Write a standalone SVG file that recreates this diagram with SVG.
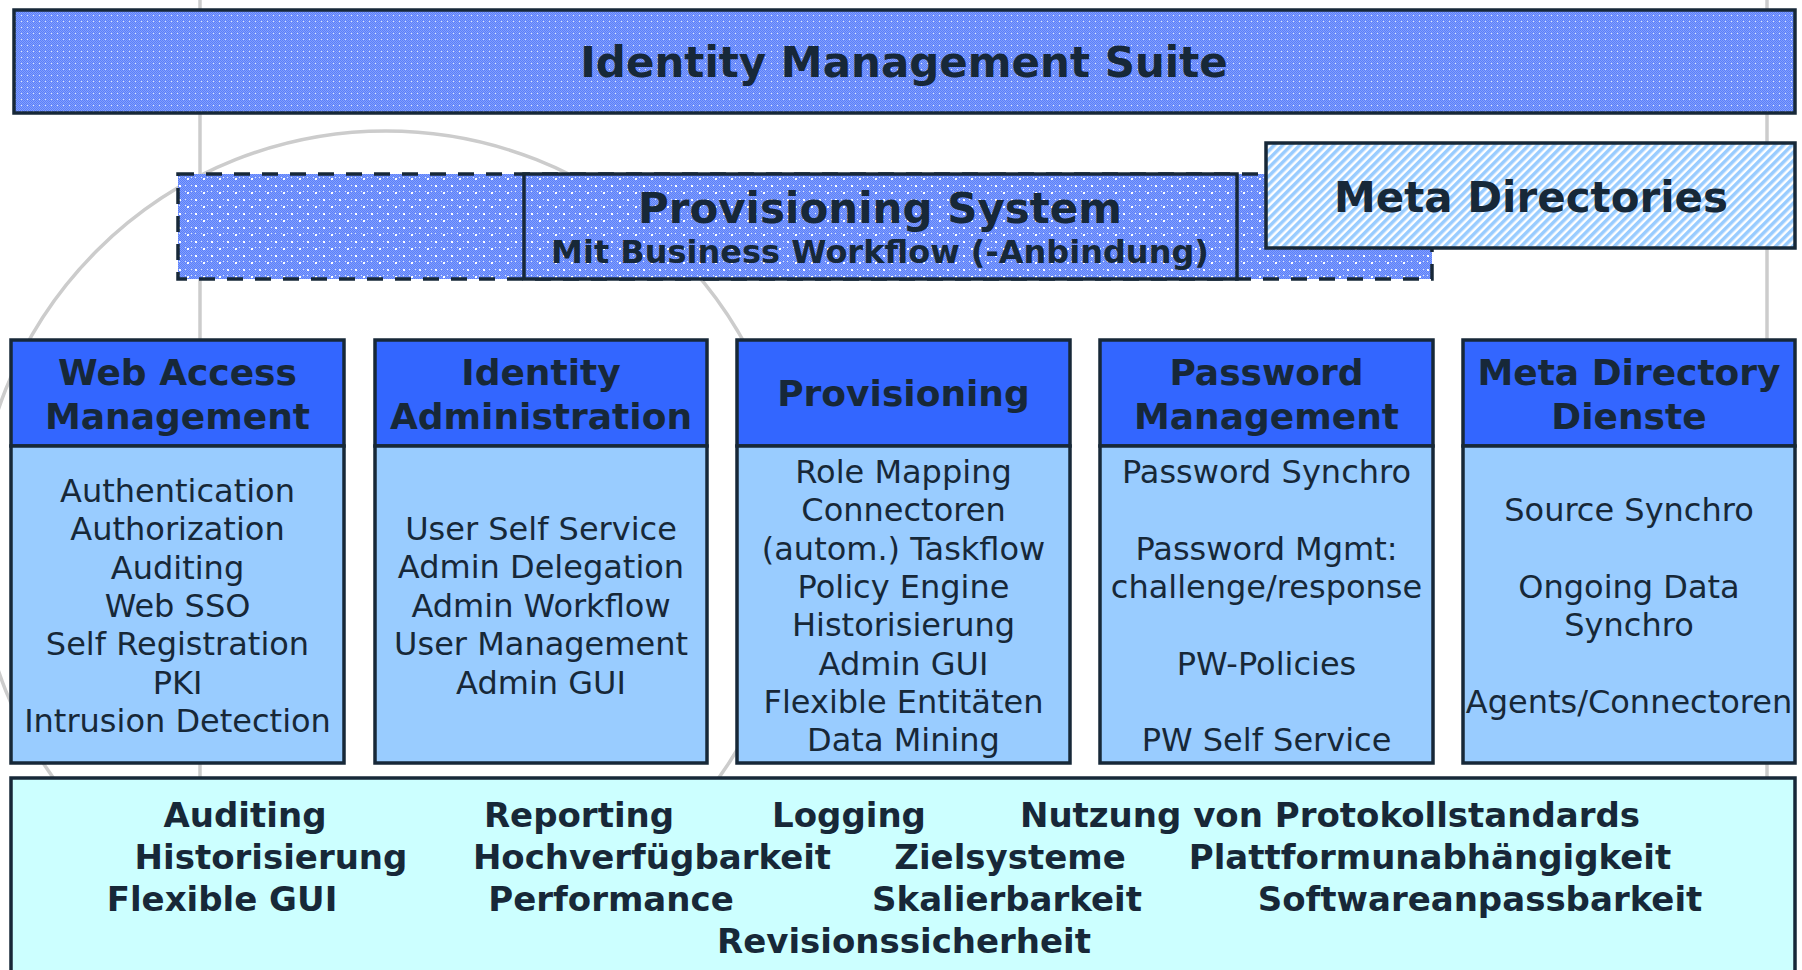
<svg xmlns="http://www.w3.org/2000/svg" width="1802" height="970" viewBox="0 0 1802 970">
<defs>
<pattern id="checker" patternUnits="userSpaceOnUse" width="6" height="6">
<rect width="6" height="6" fill="#839ffa"/>
<rect x="0" y="0" width="1" height="1" fill="#5a7ffc"/><rect x="2" y="0" width="1" height="1" fill="#5a7ffc"/><rect x="4" y="0" width="1" height="1" fill="#5a7ffc"/>
<rect x="1" y="1" width="1" height="1" fill="#5a7ffc"/><rect x="3" y="1" width="1" height="1" fill="#5a7ffc"/><rect x="5" y="1" width="1" height="1" fill="#5a7ffc"/>
<rect x="0" y="2" width="1" height="1" fill="#5a7ffc"/><rect x="2" y="2" width="1" height="1" fill="#5a7ffc"/><rect x="4" y="2" width="1" height="1" fill="#5a7ffc"/>
<rect x="1" y="3" width="1" height="1" fill="#5a7ffc"/><rect x="3" y="3" width="1" height="1" fill="#5a7ffc"/><rect x="5" y="3" width="1" height="1" fill="#5a7ffc"/>
<rect x="0" y="4" width="1" height="1" fill="#5a7ffc"/><rect x="2" y="4" width="1" height="1" fill="#5a7ffc"/><rect x="4" y="4" width="1" height="1" fill="#5a7ffc"/>
<rect x="1" y="5" width="1" height="1" fill="#5a7ffc"/><rect x="3" y="5" width="1" height="1" fill="#5a7ffc"/><rect x="5" y="5" width="1" height="1" fill="#5a7ffc"/>
<rect x="3" y="3" width="1" height="1" fill="#dde6ff"/>
</pattern>
<pattern id="dots" patternUnits="userSpaceOnUse" width="16" height="14">
<rect width="16" height="14" fill="url(#checker)"/>
<rect x="3" y="3" width="2" height="2" fill="#ffffff"/>
<rect x="11" y="10" width="2" height="2" fill="#ffffff"/>
</pattern>
<pattern id="hatch" patternUnits="userSpaceOnUse" width="6" height="6" patternTransform="rotate(45)">
<rect width="6" height="6" fill="#ffffff"/>
<rect x="0" y="0" width="3.5" height="6" fill="#99ccff"/>
</pattern>
<style>
.bg{fill:none;stroke:#cccccc;stroke-width:3.5}
.box{stroke:#172838;stroke-width:3.5}
.hdr{fill:#3366ff}
.body{fill:#99ccff}
.t{font-family:"DejaVu Sans",Verdana,sans-serif;fill:#172838;text-anchor:middle}
.b{font-weight:bold}
.h{font-size:36px;font-weight:bold}
.r{font-size:32px}
.f{font-size:34px;font-weight:bold}
</style>
</defs>
<rect width="1802" height="970" fill="#ffffff"/>
<g id="background-lines">
<line class="bg" x1="200" y1="0" x2="200" y2="790"/>
<line class="bg" x1="1767" y1="0" x2="1767" y2="790"/>
<circle class="bg" cx="386" cy="540" r="409"/>
</g>
<g id="suite">
<rect class="box" x="14" y="10" width="1781" height="103" fill="url(#checker)"/>
<text class="t b" x="904" y="77" font-size="42">Identity Management Suite</text>
</g>
<g id="provisioning-system">
<rect x="178" y="174" width="1254" height="105" fill="url(#dots)" stroke="#172838" stroke-width="3.5" stroke-dasharray="16 12"/>
<rect class="box" x="524" y="174" width="713" height="105" fill="url(#dots)"/>
<text class="t b" x="880" y="223" font-size="42">Provisioning System</text>
<text class="t b" x="880" y="263" font-size="32">Mit Business Workflow (-Anbindung)</text>
</g>
<g id="meta-directories">
<rect class="box" x="1266" y="143" width="529" height="105" fill="url(#hatch)"/>
<text class="t b" x="1531" y="212" font-size="42">Meta Directories</text>
</g>
<g id="web-access-management">
<rect class="box hdr" x="11" y="340" width="333" height="106"/>
<rect class="box body" x="11" y="446" width="333" height="317"/>
<text class="t h" x="177.5" y="385">Web Access</text>
<text class="t h" x="177.5" y="429">Management</text>
<text class="t r" x="177.5" y="502">Authentication</text>
<text class="t r" x="177.5" y="540">Authorization</text>
<text class="t r" x="177.5" y="579">Auditing</text>
<text class="t r" x="177.5" y="617">Web SSO</text>
<text class="t r" x="177.5" y="655">Self Registration</text>
<text class="t r" x="177.5" y="694">PKI</text>
<text class="t r" x="177.5" y="732">Intrusion Detection</text>
</g>
<g id="identity-administration">
<rect class="box hdr" x="375" y="340" width="332" height="106"/>
<rect class="box body" x="375" y="446" width="332" height="317"/>
<text class="t h" x="541" y="385">Identity</text>
<text class="t h" x="541" y="429">Administration</text>
<text class="t r" x="541" y="540">User Self Service</text>
<text class="t r" x="541" y="578">Admin Delegation</text>
<text class="t r" x="541" y="617">Admin Workflow</text>
<text class="t r" x="541" y="655">User Management</text>
<text class="t r" x="541" y="694">Admin GUI</text>
</g>
<g id="provisioning">
<rect class="box hdr" x="737" y="340" width="333" height="106"/>
<rect class="box body" x="737" y="446" width="333" height="317"/>
<text class="t h" x="903.5" y="406">Provisioning</text>
<text class="t r" x="903.5" y="483">Role Mapping</text>
<text class="t r" x="903.5" y="521">Connectoren</text>
<text class="t r" x="903.5" y="560">(autom.) Taskflow</text>
<text class="t r" x="903.5" y="598">Policy Engine</text>
<text class="t r" x="903.5" y="636">Historisierung</text>
<text class="t r" x="903.5" y="675">Admin GUI</text>
<text class="t r" x="903.5" y="713">Flexible Entitäten</text>
<text class="t r" x="903.5" y="751">Data Mining</text>
</g>
<g id="password-management">
<rect class="box hdr" x="1100" y="340" width="333" height="106"/>
<rect class="box body" x="1100" y="446" width="333" height="317"/>
<text class="t h" x="1266.5" y="385">Password</text>
<text class="t h" x="1266.5" y="429">Management</text>
<text class="t r" x="1266.5" y="483">Password Synchro</text>
<text class="t r" x="1266.5" y="560">Password Mgmt:</text>
<text class="t r" x="1266.5" y="598">challenge/response</text>
<text class="t r" x="1266.5" y="675">PW-Policies</text>
<text class="t r" x="1266.5" y="751">PW Self Service</text>
</g>
<g id="meta-directory-dienste">
<rect class="box hdr" x="1463" y="340" width="332" height="106"/>
<rect class="box body" x="1463" y="446" width="332" height="317"/>
<text class="t h" x="1629" y="385">Meta Directory</text>
<text class="t h" x="1629" y="429">Dienste</text>
<text class="t r" x="1629" y="521">Source Synchro</text>
<text class="t r" x="1629" y="598">Ongoing Data</text>
<text class="t r" x="1629" y="636">Synchro</text>
<text class="t r" x="1629" y="713">Agents/Connectoren</text>
</g>
<g id="common-features">
<rect class="box" x="11" y="778" width="1784" height="200" fill="#ccffff"/>
<text class="t f" x="245" y="827">Auditing</text>
<text class="t f" x="579" y="827">Reporting</text>
<text class="t f" x="849" y="827">Logging</text>
<text class="t f" x="1330" y="827">Nutzung von Protokollstandards</text>
<text class="t f" x="271" y="869">Historisierung</text>
<text class="t f" x="652" y="869">Hochverfügbarkeit</text>
<text class="t f" x="1010" y="869">Zielsysteme</text>
<text class="t f" x="1430" y="869">Plattformunabhängigkeit</text>
<text class="t f" x="222" y="911">Flexible GUI</text>
<text class="t f" x="611" y="911">Performance</text>
<text class="t f" x="1007" y="911">Skalierbarkeit</text>
<text class="t f" x="1480" y="911">Softwareanpassbarkeit</text>
<text class="t f" x="904" y="953">Revisionssicherheit</text>
</g>
</svg>
